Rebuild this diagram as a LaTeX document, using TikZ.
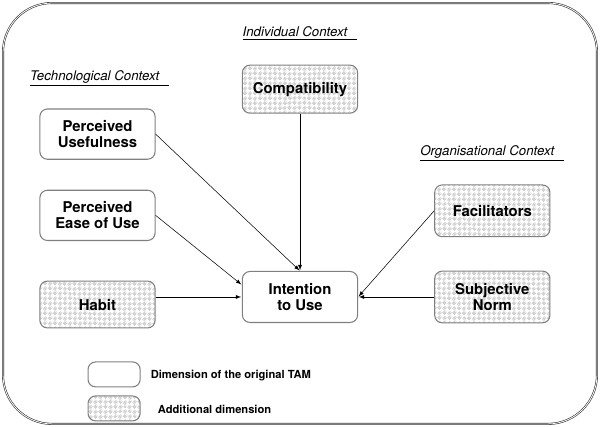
\documentclass[tikz,border=0pt]{standalone}
\usepackage{fontspec}
\setmainfont{TeX Gyre Heros}
\usepackage{tikz}
\usetikzlibrary{positioning,patterns.meta}

\pgfdeclarepattern{
  name=checkdiag,
  type=uncolored,
  bottom left={\pgfpoint{0pt}{0pt}},
  top right={\pgfpoint{5.6pt}{5.6pt}},
  tile size={\pgfpoint{5.6pt}{5.6pt}},
  tile transformation={\pgftransformrotate{45}},
  code={
    \pgfpathrectangle{\pgfpointorigin}{\pgfpoint{2.8pt}{2.8pt}}
    \pgfpathrectangle{\pgfpoint{2.8pt}{2.8pt}}{\pgfpoint{2.8pt}{2.8pt}}
    \pgfusepath{fill}
  }
}

\begin{document}
\begin{tikzpicture}[shorten >=0.5pt,node distance=1cm,on grid,>=latex,
  dim/.style={rectangle,rounded corners=0.2cm,draw=gray,line width=0.8pt,minimum width=3.05cm,minimum height=1.33cm,align=center,font=\fontsize{11.2}{12}\selectfont\bfseries},
  adddim/.style={dim,pattern=checkdiag,pattern color=gray!35},
  ctx/.style={inner sep=0pt,font=\fontsize{10}{12}\selectfont\itshape},
  leg/.style={inner sep=0pt,font=\fontsize{8.4}{10}\selectfont\bfseries}]
\useasboundingbox (-7.94,7.86) rectangle (7.94,-3.44);
\draw[double=white,double distance=0.6pt,line width=0.45pt,draw=black!80,rounded corners=1.3cm] (-7.86,7.78) rectangle (7.86,-3.36);
\node[dim,minimum height=1.35cm](q_iu){Intention\\to Use};
\node[adddim,minimum height=1.27cm](q_c)[above=5.5cm of q_iu]{Compatibility};
\node[dim](q_pu)[above left=4.31cm and 5.36cm of q_iu]{Perceived\\Usefulness};
\node[dim](q_peou)[above left=2.16cm and 5.36cm of q_iu]{Perceived\\Ease of Use};
\node[adddim,minimum height=1.24cm](q_h)[below left=0.2cm and 5.36cm of q_iu]{Habit};
\node[adddim,minimum height=1.37cm](q_f)[above right=2.28cm and 5.09cm of q_iu]{Facilitators};
\node[adddim,minimum height=1.37cm](q_sn)[right=5.09cm of q_iu]{Subjective\\Norm};
% context labels
\node[ctx](q_ic)[above=1.48cm of q_c]{\underline{Individual Context\hspace{7.5pt}}};
\node[ctx](q_tc)[above=1.48cm of q_pu,xshift=0.06cm]{\underline{Technological Context\hspace{7.5pt}}};
\node[ctx](q_oc)[above=1.52cm of q_f]{\underline{Organisational Context\hspace{7.5pt}}};
% legend
\node[dim,minimum width=1.38cm,minimum height=0.66cm](q_l1)[below left=2.05cm and 4.92cm of q_iu]{};
\node[adddim,minimum width=1.38cm,minimum height=0.66cm](q_l2)[below=0.9cm of q_l1]{};
\node[leg,anchor=west](q_t1) at ([xshift=0.26cm,yshift=-0.03cm]q_l1.east) {Dimension of the original TAM};
\node[leg,anchor=west](q_t2) at ([xshift=0.45cm,yshift=-0.03cm]q_l2.east) {Additional dimension};
% arrows
\draw[->] (q_pu.east) -- (q_iu.north);
\draw[->] (q_c.south) -- (q_iu.north);
\draw[->] (q_peou.east) -- ([yshift=0.32cm]q_iu.west);
\draw[->] (q_h.east |- q_iu.west) -- (q_iu.west);
\draw[->] (q_f.west) -- (q_iu.east);
\draw[->] (q_sn.west) -- (q_iu.east);
\end{tikzpicture}
\end{document}
